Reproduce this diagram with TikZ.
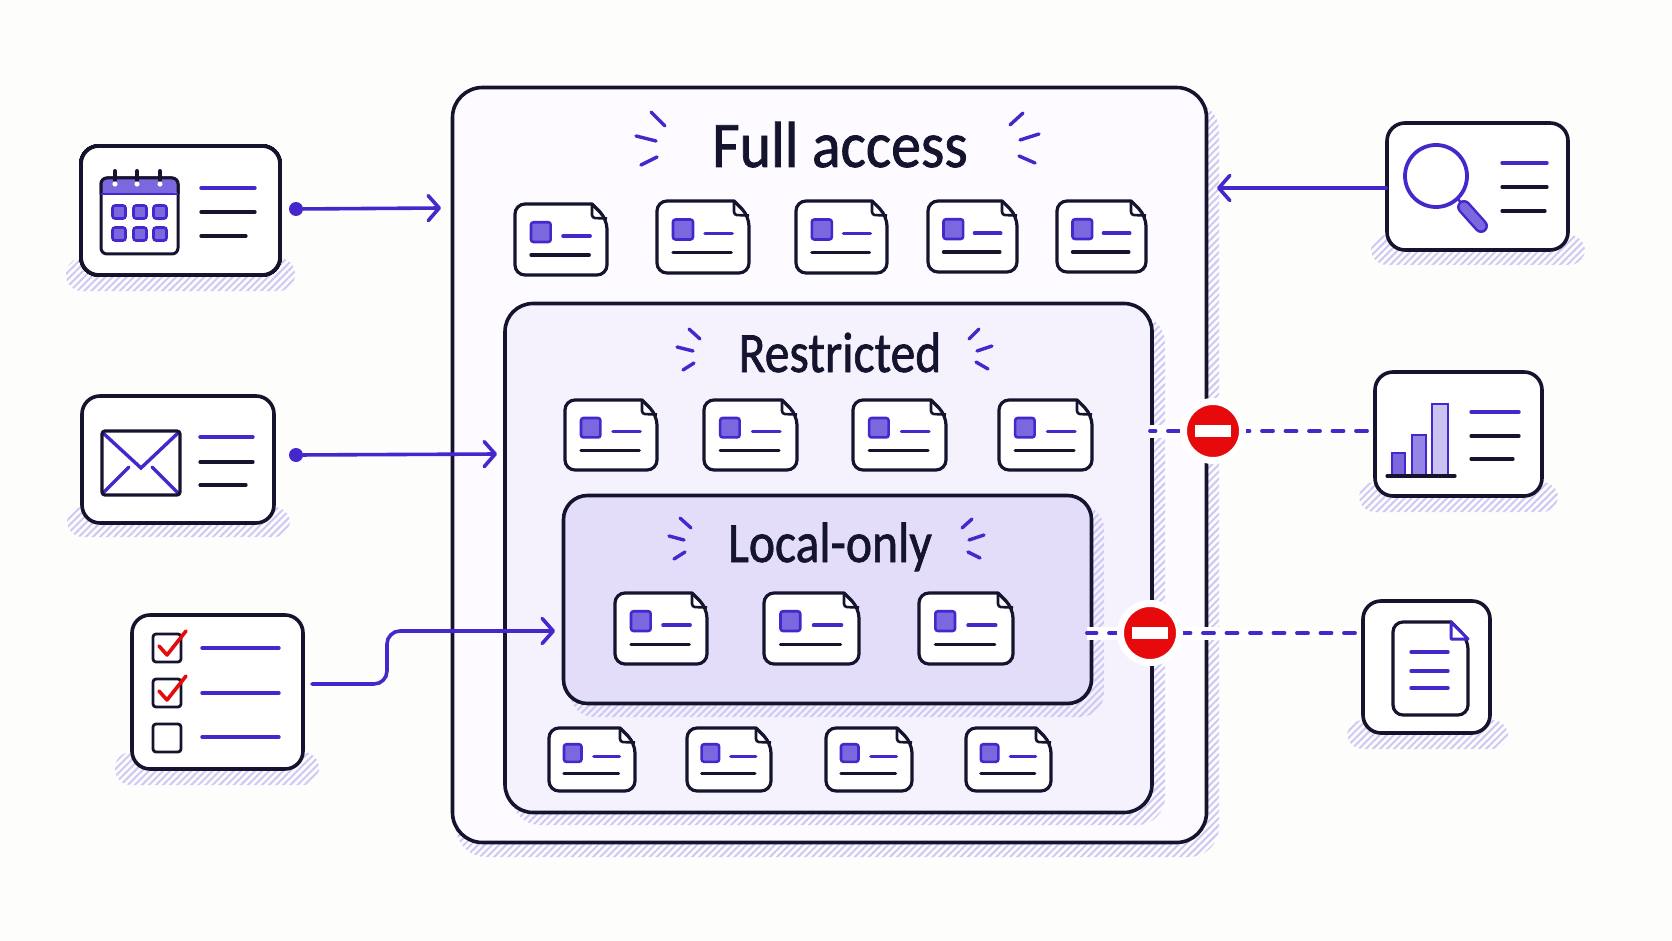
\documentclass[tikz,border=0pt]{standalone}
\usepackage{fontspec}
\usepackage{xcolor}
\usepackage{tikz}
\usetikzlibrary{arrows.meta,patterns.meta}
\setmainfont[FakeBold=1.3]{Carlito}

\definecolor{paper}{HTML}{FDFDFB}
\definecolor{ink}{HTML}{15142E}
\definecolor{flow}{HTML}{4527CC}
\definecolor{chip}{HTML}{7B68DE}
\definecolor{hatchline}{HTML}{CFC8F4}
\definecolor{tintA}{HTML}{FDFBFF}
\definecolor{tintB}{HTML}{F5F2FE}
\definecolor{tintC}{HTML}{E3DDFA}
\definecolor{stopred}{HTML}{E60A0C}

\tikzset{
	box/.style={draw=ink,line width=3.6pt,inner sep=0pt,outer sep=0pt},
	card/.style={box,fill=white,rounded corners=18pt},
	hatch/.style={pattern={Lines[angle=45,distance=5pt,line width=2pt]},pattern color=hatchline},
	title/.style={anchor=base,text=ink,inner sep=0pt},
	inkline/.style={draw=ink,line width=3.2pt,line cap=round},
	flowline/.style={draw=flow,line width=3.4pt,line cap=round},
	spark/.style={draw=flow,line width=3.4pt,line cap=round},
	chipbox/.style={draw=flow,fill=chip,line width=2.6pt,rounded corners=2.5pt},
	tick/.style={draw=ink,fill=white,line width=2.8pt,rounded corners=3pt},
	connect/.style={color=flow,line width=3.6pt,line cap=round,>={Straight Barb[length=11pt,width=25pt,round]}},
	dot/.style={circle,fill=flow,inner sep=0pt,outer sep=0pt,minimum size=14pt},
	blocked/.style={draw=flow,line width=3.8pt,line cap=round,dash pattern=on 11pt off 12.5pt,
		preaction={draw=white,line width=13pt,solid,line cap=butt}},
	noentry/.style={circle,draw=white,fill=stopred,line width=7pt,inner sep=0pt,outer sep=0pt,minimum size=59pt},
	stopbar/.style={fill=white,inner sep=0pt,outer sep=0pt,minimum width=36pt,minimum height=11.5pt},
}

% x, y, width, height
\newcommand{\doccard}[4]{
	\begin{scope}[shift={(#1+1,#2+1)}]
		\draw[draw=ink,fill=white,line width=3.2pt,rounded corners=10pt,line join=round]
			(#3-17,0) -- (0,0) -- (0,#4-2) -- (#3-2,#4-2) -- (#3-2,15) [sharp corners] -- cycle;
		\draw[draw=ink,line width=2.6pt,line join=round,rounded corners=3pt] (#3-17,0) -- (#3-17,14) -- (#3-2,14.5);
		\draw[chipbox] (#3*.17,#4*.25) rectangle ++(#4*.27,#4*.27);
		\draw[flowline] (#3*.51,#4*.44) -- (#3*.80,#4*.44);
		\draw[inkline] (#3*.17,#4*.70) -- (#3*.79,#4*.70);
	\end{scope}
}

\begin{document}
\begin{tikzpicture}[x=1pt,y=-1pt]
	\fill[paper] (0,0) rectangle (1672,941);
	\useasboundingbox (0,0) rectangle (1672,941);
	% hatched shadows of the cards
	\fill[hatch,rounded corners=16pt] (66,258) rectangle (295,291);
	\fill[hatch,rounded corners=16pt] (67,507) rectangle (290,537);
	\fill[hatch,rounded corners=16pt] (115,752) rectangle (319,785);
	\fill[hatch,rounded corners=16pt] (1371,235) rectangle (1585,265);
	\fill[hatch,rounded corners=16pt] (1359,482) rectangle (1558,512);
	\fill[hatch,rounded corners=16pt] (1347,720) rectangle (1508,749);
	% nested boxes
	\fill[hatch,rounded corners=30pt] (456,101) rectangle (1219,857);
	\node (fullbox) [box,fill=tintA,rounded corners=30pt,minimum width=754pt,minimum height=755pt] at (829.5,465) {};
	\fill[hatch,rounded corners=28pt] (512,315) rectangle (1165,825);
	\node (restrictedbox) [box,fill=tintB,rounded corners=28pt,minimum width=647pt,minimum height=509pt] at (828.5,558) {};
	\fill[hatch,rounded corners=24pt] (570,505) rectangle (1104,717);
	\node (localbox) [box,fill=tintC,rounded corners=24pt,minimum width=528pt,minimum height=208pt] at (827.5,599.5) {};
	% titles
	\node (fulltitle) [title,font=\fontsize{65}{65}\selectfont] at (840,167) {\scalebox{.92}[1]{Full access}};
	\node (restrictedtitle) [title,font=\fontsize{57}{57}\selectfont] at (840,372) {\scalebox{.87}[1]{Restricted}};
	\node (localtitle) [title,font=\fontsize{57}{57}\selectfont] at (830,562) {\scalebox{.87}[1]{Local-only}};
	\foreach \xa/\ya/\xb/\yb in {651/112/665/126,636/136/656/141,641/165/657/157,1023/113/1010/125,1039/134/1020/140,1019/156/1035/163,
		689/329/700/339,677/347/693/351,683/370/694/363,979/329/969/339,992/346/977/351,976/362/988/369,
		680/518/691/528,669/536/684/540,674/559/685/552,972/519/962/528,984/535/969/540,968/552/980/558}
		\draw[spark] (\xa,\ya) -- (\xb,\yb);
	% small document cards
	\foreach \px/\py/\pw/\ph in {514/203/94/73,656/200/94/74,795/200/93/74,927/200/91/73,1056/200/91/73,
		564/399/94/72,703/399/95/72,852/399/95/72,998/399/95/72,
		614/592/94/73,763/592/97/73,918/592/96/73,
		548/727/88/65,686/727/86/65,825/727/88/65,965/727/87/65}
		\doccard{\px}{\py}{\pw}{\ph}
	% calendar card
	\node (calendarcard) [card,minimum width=199pt,minimum height=129pt] at (180.5,210.5) {};
	\draw[draw=ink,fill=white,line width=3pt,rounded corners=6pt] (101,178) rectangle (178,254);
	\fill[chip,rounded corners=6pt] (101,194) -- (101,178) -- (178,178) -- (178,194) [sharp corners] -- cycle;
	\draw[draw=ink,line width=3pt,rounded corners=6pt] (101,194) -- (101,178) -- (178,178) -- (178,194);
	\draw[draw=flow,line width=2.2pt] (101,194) -- (178,194);
	\foreach \rx in {115,137,160} {
		\draw[inkline,line width=4pt] (\rx,171) -- (\rx,180);
		\fill[white] (\rx,184) circle (2.6pt);
	}
	\foreach \sx in {119,140,160}
		\foreach \sy in {212,234}
			\draw[chipbox] (\sx-6.5,\sy-6.5) rectangle ++(13,13);
	\draw[flowline] (201,188) -- (255,188);
	\draw[inkline] (201,212) -- (255,212);
	\draw[inkline] (201,236) -- (246,236);
	% envelope card
	\node (mailcard) [card,minimum width=192pt,minimum height=127pt] at (178,459.5) {};
	\draw[flowline] (103,433) -- (141,468) -- (178,433);
	\draw[flowline] (129,467) -- (103,493);
	\draw[flowline] (152,467) -- (178,493);
	\draw[draw=ink,line width=3.2pt,rounded corners=3pt] (102,431) rectangle (180,495);
	\draw[flowline] (200,437) -- (253,437);
	\draw[inkline] (200,462) -- (253,462);
	\draw[inkline] (200,485) -- (246,485);
	% checklist card
	\node (taskcard) [card,minimum width=171pt,minimum height=154pt] at (217.5,692) {};
	\foreach \cy in {634,679,724}
		\draw[tick] (153,\cy) rectangle (181,\cy+28);
	\foreach \cy in {648,693,737}
		\draw[flowline] (202,\cy) -- (279,\cy);
	\foreach \cy in {0,45}
		\draw[draw=stopred,line width=3.6pt,line cap=round,line join=round] (159,646+\cy) -- (167,655+\cy) -- (186,631+\cy);
	% magnifier card
	\node (searchcard) [card,minimum width=181pt,minimum height=127pt] at (1477.5,186.5) {};
	\draw[draw=flow,line width=3.8pt] (1436,176) circle (31pt);
	\draw[draw=flow,line width=2.6pt] (1457,198) -- (1463,205);
	\draw[draw=flow,line width=14pt,line cap=round] (1464,207) -- (1481,226);
	\draw[draw=chip,line width=9pt,line cap=round] (1464,207) -- (1481,226);
	\draw[flowline] (1502,163) -- (1547,163);
	\draw[inkline] (1502,187) -- (1547,187);
	\draw[inkline] (1502,211) -- (1545,211);
	% chart card
	\node (chartcard) [card,minimum width=167pt,minimum height=124pt] at (1458.5,434) {};
	\draw[draw=flow,fill=chip,line width=2.6pt] (1392,476) -- (1392,453) -- (1405,453) -- (1405,476);
	\draw[draw=flow,fill=chip!80!white,line width=2.6pt] (1412,476) -- (1412,435) -- (1426,435) -- (1426,476);
	\draw[draw=flow,fill=chip!40!white,line width=2.6pt] (1432,476) -- (1432,404) -- (1448,404) -- (1448,476);
	\draw[inkline] (1387,476) -- (1455,476);
	\draw[flowline] (1471,412) -- (1519,412);
	\draw[inkline] (1471,436) -- (1519,436);
	\draw[inkline] (1471,459) -- (1513,459);
	% document card
	\node (notecard) [card,minimum width=127pt,minimum height=132pt] at (1426.5,667) {};
	\draw[draw=ink,fill=white,line width=3.2pt,rounded corners=10pt] (1451,622) -- (1393,622) -- (1393,715) -- (1468,715) -- (1468,639) [sharp corners] -- cycle;
	\draw[draw=flow,fill=white,line width=3pt,line join=round] (1451,622) -- (1451,639) -- (1468,639) -- cycle;
	\foreach \ly in {652,671,688}
		\draw[flowline] (1411,\ly) -- (1448,\ly);
	% connector ends
	\node (calendardot) [dot] at (296,209) {};
	\node (maildot) [dot] at (296,455) {};
	\coordinate (fullin) at (441,208);
	\coordinate (restrictedin) at (497,454);
	\coordinate (localin) at (555,631);
	\coordinate (taskout) at (312,684);
	\coordinate (turnA) at (387,684);
	\coordinate (turnB) at (387,631);
	\coordinate (searchout) at (1386,188);
	\coordinate (searchin) at (1217,188);
	\coordinate (chartout) at (1367,431);
	\coordinate (chartstop) at (1150,431);
	\coordinate (noteout) at (1355,633);
	\coordinate (notestop) at (1087,633);
	% open arrows
	\path[connect,->]
		(calendardot) edge (fullin)
		(maildot) edge (restrictedin)
		(searchout) edge (searchin);
	\draw[connect,->,rounded corners=13pt] (taskout) -- (turnA) -- (turnB) -- (localin);
	% blocked arrows
	\draw[blocked] (chartout) -- (chartstop);
	\draw[blocked] (noteout) -- (notestop);
	\node (stopA) [noentry] at (1213,431) {};
	\node (barA) [stopbar] at (stopA) {};
	\node (stopB) [noentry] at (1150,633) {};
	\node (barB) [stopbar] at (stopB) {};
\end{tikzpicture}
\end{document}
